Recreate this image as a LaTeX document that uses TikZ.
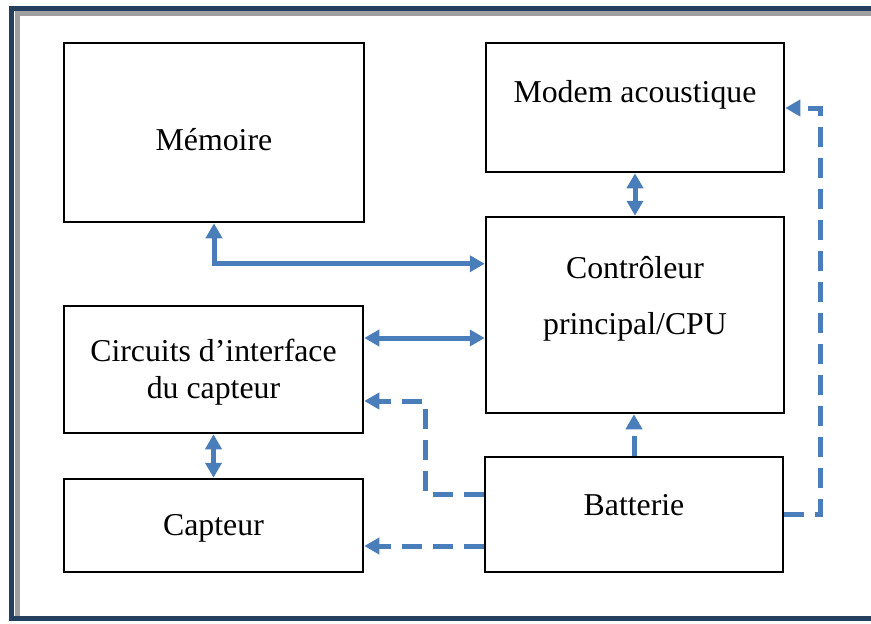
\documentclass[tikz,border=0pt]{standalone}
\usepackage{fontspec}
\setmainfont{Liberation Serif}
\usetikzlibrary{arrows.meta}
\definecolor{frameblue}{HTML}{243F60}
\definecolor{framegray}{HTML}{A0A0A0}
\definecolor{linkblue}{HTML}{4A7EBB}
\tikzset{
  blk/.style={draw,line width=2.5pt,inner sep=0pt},
  txt/.style={align=center,font=\fontsize{31.8}{40}\selectfont},
  tip/.style={-{Triangle[length=15pt,width=16pt]}},
  lnk/.style={linkblue,line width=5pt,{Triangle[length=15pt,width=16pt]}-{Triangle[length=15pt,width=16pt]}},
  pwr/.style={linkblue,line width=5pt,dash pattern=on 20pt off 11pt,tip}
}
\begin{document}
\begin{tikzpicture}[x=1pt,y=-1pt]
\useasboundingbox (0,0) rectangle (871,624);
% page frame
\draw[framegray,line width=5pt] (871,13.5) -- (17,13.5) -- (17,617);
\draw[frameblue,line width=5pt] (871,8.5) -- (11.7,8.5) -- (11.7,618.5) -- (871,618.5);
% blocks
\node[blk,minimum width=300pt,minimum height=179pt] (mem) at (214,132.5) {};
\node[blk,minimum width=298pt,minimum height=129pt] (modem) at (635,107.5) {};
\node[blk,minimum width=298pt,minimum height=196pt] (cpu) at (635,315) {};
\node[blk,minimum width=299pt,minimum height=127pt] (intf) at (213.5,369.5) {};
\node[blk,minimum width=299pt,minimum height=93pt] (capt) at (213.5,525.5) {};
\node[blk,minimum width=298pt,minimum height=115pt] (batt) at (634,514.5) {};
\node[txt] (memtxt) at (214,140) {Mémoire};
\node[txt] (modemtxt) at (635,95) {Modem acoustique};
\node[txt,font=\fontsize{31.8}{56}\selectfont] (cputxt) at (635,299) {Contrôleur\\principal/CPU};
\node[txt,font=\fontsize{31.8}{37}\selectfont] (intftxt) at (213.5,372) {Circuits d’interface\\du capteur};
\node[txt] (capttxt) at (213.5,528) {Capteur};
\node[txt] (batttxt) at (634,505) {Batterie};
% data links
\draw[lnk] (mem.south) |- ([yshift=-48pt]cpu.north west);
\draw[lnk] (modem.south) -- (cpu.north);
\draw[lnk] ([yshift=31.5pt]intf.east) -- ([yshift=31.5pt]intf.east -| cpu.west);
\draw[lnk] (intf.south) -- (capt.north);
% power lines from the battery
\coordinate (b1) at (425,401);
\coordinate (b2) at (820,108);
\draw[pwr] (batt.north) -- (batt.north |- cpu.south);
\draw[pwr] ([yshift=20pt]batt.west) -| (b1) -- (b1 -| intf.east);
\draw[pwr] ([yshift=-31.5pt]batt.west) -- ([yshift=-31.5pt]batt.west -| capt.east);
\draw[pwr] (batt.east) -| (b2) -- (b2 -| modem.east);
\end{tikzpicture}
\end{document}
